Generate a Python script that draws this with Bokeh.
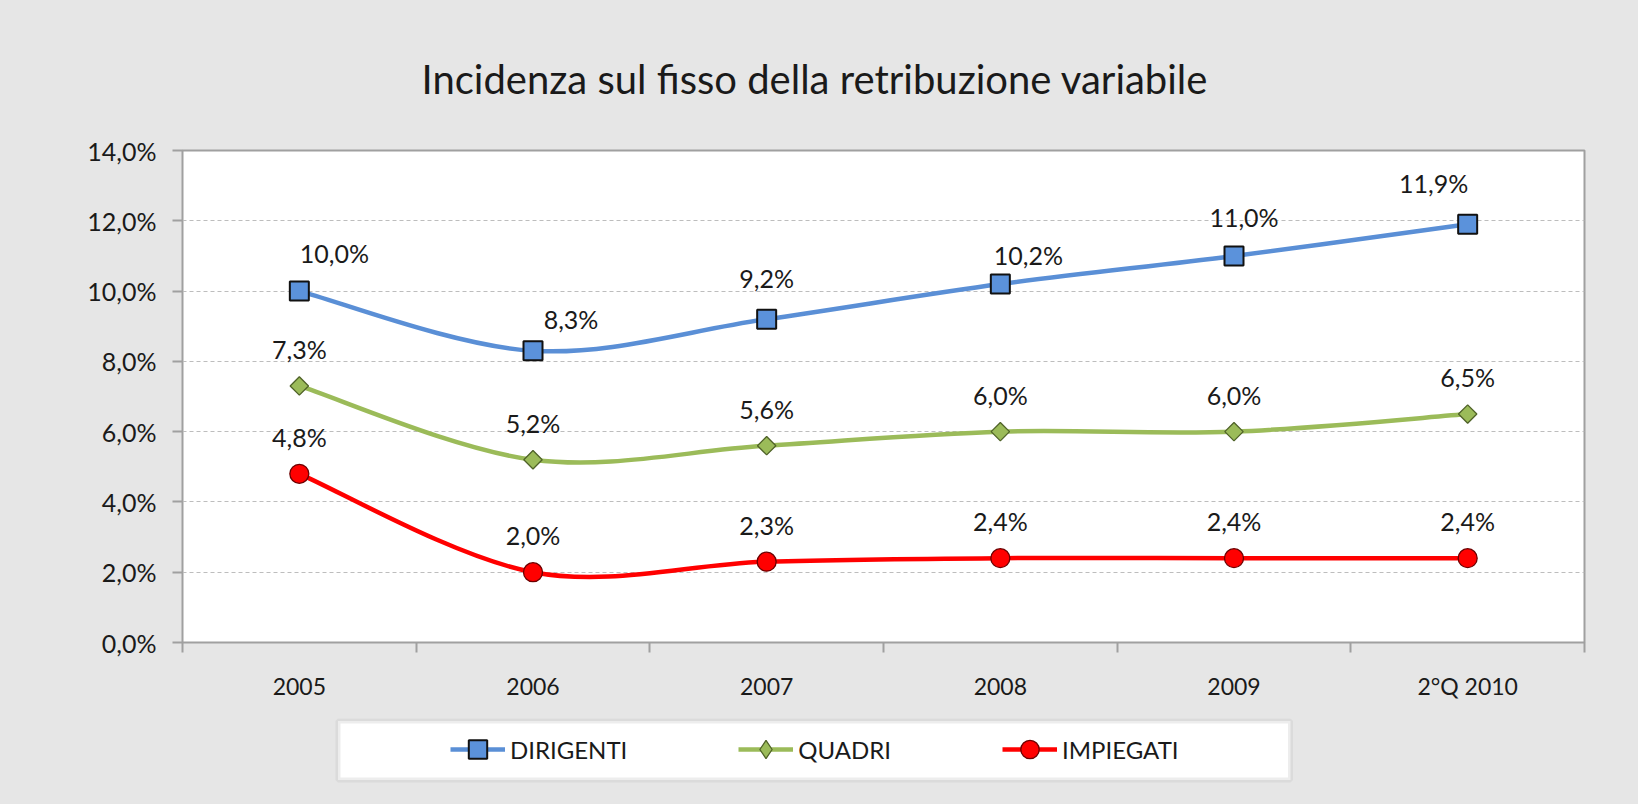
from bokeh.plotting import figure
from bokeh.layouts import column
from bokeh.models import (ColumnDataSource, Range1d, FixedTicker, Legend, LegendItem, Title,
                          BoxAnnotation)
from bokeh.core.properties import value
from bokeh.embed import file_html
from bokeh.resources import INLINE
import math

# ---------------- data ----------------
categories = ["2005", "2006", "2007", "2008", "2009", "2°Q 2010"]
dirigenti = [10.0, 8.3, 9.2, 10.2, 11.0, 11.9]
quadri = [7.3, 5.2, 5.6, 6.0, 6.0, 6.5]
impiegati = [4.8, 2.0, 2.3, 2.4, 2.4, 2.4]
y_ticks = [0, 2, 4, 6, 8, 10, 12, 14]
y_tick_labels = ["0,0%", "2,0%", "4,0%", "6,0%", "8,0%", "10,0%", "12,0%", "14,0%"]
title_text = "Incidenza sul fisso della retribuzione variabile"
series_names = ["DIRIGENTI", "QUADRI", "IMPIEGATI"]

# ---------------- layout / style (not data) ----------------
FONT = "Lato"
TXT = "#1a1a1a"
BG = "#E6E6E6"
W = 1638
LB, RB = 182, W - 1584
dir_dx = [35, 38, 0, 28, 10, -34]
dir_dy = [-38, -32, -41, -29, -39, -41]

xs = [i + 0.5 for i in range(len(categories))]

p = figure(width=W, height=718, output_backend="svg", toolbar_location=None,
           x_range=Range1d(0, len(categories)), y_range=Range1d(0, 14),
           min_border_left=LB, min_border_right=RB, min_border_top=150,
           min_border_bottom=76)
p.background_fill_color = "white"
p.border_fill_color = BG
p.outline_line_color = "#A0A0A0"
p.outline_line_width = 2

p.title = Title(text=title_text, align="left", offset=239, standoff=95,
                text_font=FONT, text_font_size="40px", text_font_style="normal",
                text_color=TXT)

# axes
p.xaxis.ticker = FixedTicker(ticks=xs, minor_ticks=list(range(len(categories) + 1)))
p.xaxis.major_label_overrides = {x: c for x, c in zip(xs, categories)}
p.xaxis.major_tick_line_color = None
p.xaxis.minor_tick_line_color = "#A0A0A0"
p.xaxis.minor_tick_line_width = 2
p.xaxis.minor_tick_in = 0
p.xaxis.minor_tick_out = 10
p.xaxis.axis_line_color = None
p.xaxis.major_label_standoff = 19
p.xaxis.major_label_text_font = FONT
p.xaxis.major_label_text_font_size = "23px"
p.xaxis.major_label_text_color = TXT

p.yaxis.ticker = FixedTicker(ticks=y_ticks)
p.yaxis.major_label_overrides = {tk: l for tk, l in zip(y_ticks, y_tick_labels)}
p.yaxis.major_tick_line_color = "#A0A0A0"
p.yaxis.major_tick_line_width = 2
p.yaxis.major_tick_in = 0
p.yaxis.major_tick_out = 10
p.yaxis.minor_tick_line_color = None
p.yaxis.axis_line_color = None
p.yaxis.major_label_standoff = 16
p.yaxis.major_label_text_font = FONT
p.yaxis.major_label_text_font_size = "25px"
p.yaxis.major_label_text_color = TXT

p.xgrid.grid_line_color = None
p.ygrid.ticker = FixedTicker(ticks=y_ticks)
p.ygrid.grid_line_color = "#BDBDBD"
p.ygrid.grid_line_dash = "4 3"
p.ygrid.grid_line_width = 1


def smooth_segments(x, y):
    n = len(x)
    d = dict(x0=[], y0=[], x1=[], y1=[], cx0=[], cy0=[], cx1=[], cy1=[])
    for i in range(n - 1):
        a = max(i - 1, 0)
        b = min(i + 2, n - 1)
        d["x0"].append(x[i]); d["y0"].append(y[i])
        d["x1"].append(x[i + 1]); d["y1"].append(y[i + 1])
        d["cx0"].append(x[i] + (x[i + 1] - x[a]) / 6.0)
        d["cy0"].append(y[i] + (y[i + 1] - y[a]) / 6.0)
        d["cx1"].append(x[i + 1] - (x[b] - x[i]) / 6.0)
        d["cy1"].append(y[i + 1] - (y[b] - y[i]) / 6.0)
    return ColumnDataSource(d)


def fmt(v):
    return ("%.1f%%" % v).replace(".", ",")


styles = [
    dict(lc="#5A8FD6", marker="square", lmarker="square", fc="#5B92DB", oc="#111111",
         size=19, ang=0.0, lw=2, dx=dir_dx, dy=dir_dy),
    dict(lc="#9BBB59", marker="square", lmarker="diamond", fc="#9BBB59", oc="#4F6228",
         size=13, ang=math.pi / 4, lw=1.3, dx=[0] * len(quadri), dy=[-37] * len(quadri)),
    dict(lc="#FF0000", marker="circle", lmarker="circle", fc="#FF0000", oc="#6B0000",
         size=19, ang=0.0, lw=1.3, dx=[0] * len(impiegati), dy=[-37] * len(impiegati)),
]
all_vals = [dirigenti, quadri, impiegati]

for vals, st in zip(all_vals, styles):
    seg = smooth_segments(xs, vals)
    p.bezier(x0="x0", y0="y0", x1="x1", y1="y1", cx0="cx0", cy0="cy0",
             cx1="cx1", cy1="cy1", source=seg, line_color=st["lc"], line_width=4.5,
             line_cap="round")

for vals, st in zip(all_vals, styles):
    src = ColumnDataSource(dict(x=xs, y=vals))
    p.scatter(x="x", y="y", source=src, marker=st["marker"], size=st["size"], angle=st["ang"],
              fill_color=st["fc"], line_color=st["oc"], line_width=st["lw"])
    lsrc = ColumnDataSource(dict(x=xs, y=vals, t=[fmt(v) for v in vals],
                                 dx=st["dx"], dy=st["dy"]))
    p.text(x="x", y="y", text="t", x_offset="dx", y_offset="dy", source=lsrc,
           text_align="center", text_baseline="middle", text_font=value(FONT),
           text_font_size="25px", text_color=TXT)

# ---------------- legend strip (pixel-like ranges) ----------------
LG_H = 86
lg = figure(width=W, height=LG_H, output_backend="svg", toolbar_location=None,
            x_range=Range1d(0, W - LB - RB), y_range=Range1d(0, LG_H),
            min_border_left=LB, min_border_right=RB, min_border_top=0, min_border_bottom=0)
lg.border_fill_color = BG
lg.background_fill_color = BG
lg.outline_line_color = None
lg.axis.visible = False
lg.grid.visible = False

lg.add_layout(BoxAnnotation(left=155.5, right=1108, bottom=24.5, top=83.5,
                            fill_color="white", fill_alpha=1.0,
                            line_color="#C3C3C3", line_width=5))

items = []
for name, st in zip(series_names, styles):
    nan_src = ColumnDataSource(dict(x=[float("nan")], y=[float("nan")]))
    lr = lg.line(x="x", y="y", source=nan_src, line_color=st["lc"], line_width=4.5)
    mr = lg.scatter(x="x", y="y", source=nan_src, marker=st["lmarker"], size=st["size"],
                    fill_color=st["fc"], line_color=st["oc"], line_width=st["lw"])
    items.append(LegendItem(label=name, renderers=[lr, mr]))

leg = Legend(items=items, location=(268, 32), orientation="horizontal", padding=0, margin=0,
             spacing=111, border_line_color=None, background_fill_alpha=0,
             glyph_width=55, glyph_height=46, label_standoff=5,
             label_text_font=FONT, label_text_font_size="24px", label_text_color=TXT)
lg.add_layout(leg)

layout = column(p, lg, spacing=0, styles={"background-color": BG})
open("out.html", "w").write(file_html(layout, INLINE))
